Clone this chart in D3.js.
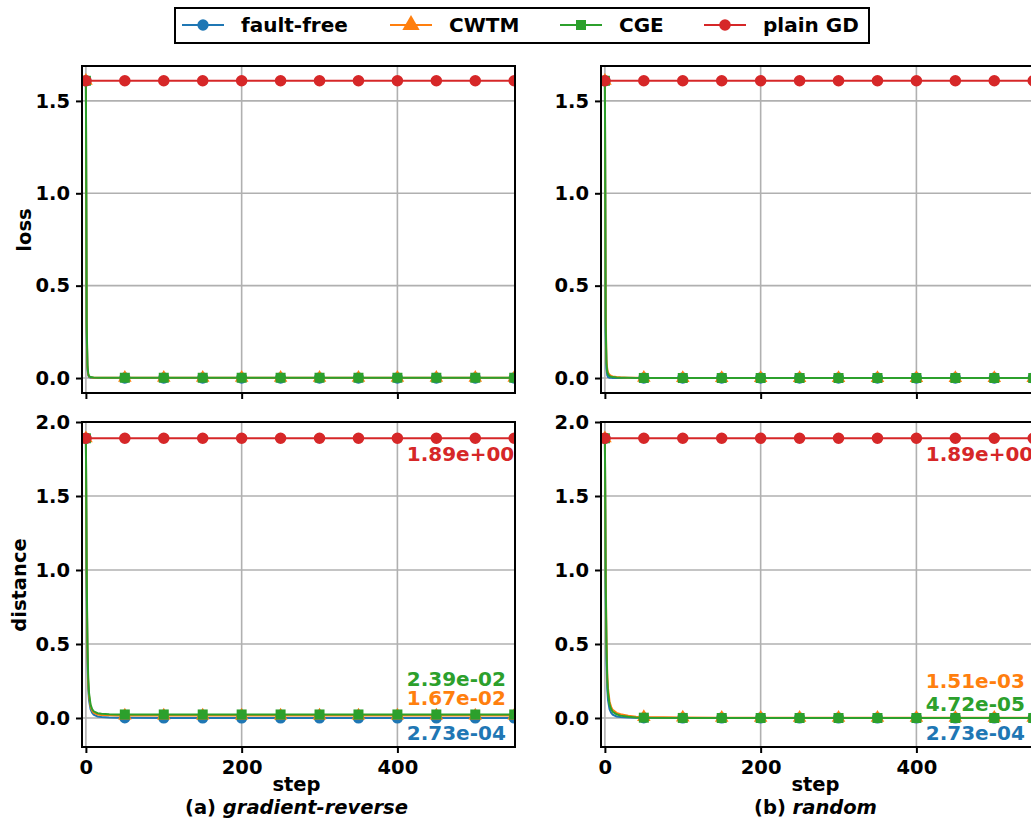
<!DOCTYPE html>
<html>
<head>
<meta charset="utf-8">
<script src="https://cdn.jsdelivr.net/npm/d3@7"></script>
<style>
  body { margin: 0; background: #fff; }
  text { font-family: "DejaVu Sans", sans-serif; font-weight: bold; }
</style>
</head>
<body>
<svg id="chart" width="1031" height="820"></svg>
<script>
// Loss / distance curves for the two fault types.

const steps = [0, 1, 2, 3, 4, 6, 8, 10, 15, 20, 30, 40,
  50, 100, 150, 200, 250, 300, 350, 400, 450, 500, 550]

const seriesNames = ["fault-free", "CWTM", "CGE", "plain GD"]

// (a) gradient-reverse
const lossA_ff   = [1.609, 0.25, 0.05, 0.015, 0.006, 0.002, 0.001, 0.0006, 0.0003, 0.0002, 0.0001, 0.0001,
  0.0001, 0.0001, 0.0001, 0.0001, 0.0001, 0.0001, 0.0001, 0.0001, 0.0001, 0.0001, 0.0001]
const lossA_cwtm = [1.609, 0.28, 0.06, 0.02, 0.008, 0.004, 0.003, 0.002, 0.0015, 0.0012, 0.001, 0.001,
  0.001, 0.001, 0.001, 0.001, 0.001, 0.001, 0.001, 0.001, 0.001, 0.001, 0.001]
const lossA_cge  = [1.609, 0.3, 0.07, 0.025, 0.01, 0.005, 0.004, 0.003, 0.002, 0.002, 0.0015, 0.0015,
  0.0015, 0.0015, 0.0015, 0.0015, 0.0015, 0.0015, 0.0015, 0.0015, 0.0015, 0.0015, 0.0015]
const lossA_gd   = [1.609, 1.609, 1.609, 1.609, 1.609, 1.609, 1.609, 1.609, 1.609, 1.609, 1.609, 1.609,
  1.609, 1.609, 1.609, 1.609, 1.609, 1.609, 1.609, 1.609, 1.609, 1.609, 1.609]

const distA_ff   = [1.89, 0.9, 0.4, 0.2, 0.12, 0.06, 0.035, 0.022, 0.01, 0.006, 0.003, 0.0015,
  0.0008, 0.0005, 0.0004, 0.0003, 0.000273, 0.000273, 0.000273, 0.000273, 0.000273, 0.000273, 0.000273]
const distA_cwtm = [1.89, 0.95, 0.45, 0.24, 0.15, 0.08, 0.05, 0.035, 0.024, 0.02, 0.018, 0.017,
  0.0168, 0.0167, 0.0167, 0.0167, 0.0167, 0.0167, 0.0167, 0.0167, 0.0167, 0.0167, 0.0167]
const distA_cge  = [1.89, 1.0, 0.5, 0.27, 0.17, 0.09, 0.06, 0.045, 0.032, 0.028, 0.025, 0.024,
  0.024, 0.0239, 0.0239, 0.0239, 0.0239, 0.0239, 0.0239, 0.0239, 0.0239, 0.0239, 0.0239]
const distA_gd   = [1.89, 1.89, 1.89, 1.89, 1.89, 1.89, 1.89, 1.89, 1.89, 1.89, 1.89, 1.89,
  1.89, 1.89, 1.89, 1.89, 1.89, 1.89, 1.89, 1.89, 1.89, 1.89, 1.89]

// (b) random
const lossB_ff   = lossA_ff
const lossB_cwtm = [1.609, 0.35, 0.10, 0.05, 0.03, 0.018, 0.012, 0.009, 0.006, 0.004, 0.002, 0.0012,
  0.0008, 0.0003, 0.0003, 0.0003, 0.0003, 0.0003, 0.0003, 0.0003, 0.0003, 0.0003, 0.0003]
const lossB_cge  = [1.609, 0.3, 0.08, 0.035, 0.02, 0.01, 0.007, 0.005, 0.003, 0.002, 0.001, 0.0006,
  0.0004, 0.0001, 0.0001, 0.0001, 0.0001, 0.0001, 0.0001, 0.0001, 0.0001, 0.0001, 0.0001]
const lossB_gd   = lossA_gd

const distB_ff   = distA_ff
const distB_cwtm = [1.89, 1.0, 0.55, 0.3, 0.2, 0.11, 0.075, 0.055, 0.035, 0.025, 0.015, 0.009,
  0.006, 0.0025, 0.0018, 0.0016, 0.00152, 0.00151, 0.00151, 0.00151, 0.00151, 0.00151, 0.00151]
const distB_cge  = [1.89, 0.95, 0.5, 0.27, 0.17, 0.09, 0.06, 0.042, 0.025, 0.016, 0.008, 0.004,
  0.002, 0.0003, 0.0001, 0.00006, 0.0000472, 0.0000472, 0.0000472, 0.0000472, 0.0000472, 0.0000472, 0.0000472]
const distB_gd   = distA_gd

// final-value labels, in series order
const finalLabelsA = ["2.73e-04", "1.67e-02", "2.39e-02", "1.89e+00"]
const finalLabelsB = ["2.73e-04", "1.51e-03", "4.72e-05", "1.89e+00"]

const xTicks = [0, 200, 400, 600]
const lossTicks = [0.0, 0.5, 1.0, 1.5]
const distTicks = [0.0, 0.5, 1.0, 1.5, 2.0]
const captions = [["(a) ", "gradient-reverse"], ["(b) ", "random"]]

const COLORS = ["#1f77b4", "#ff7f0e", "#2ca02c", "#d62728"]
const SYMBOLS = [d3.symbolCircle, d3.symbolTriangle, d3.symbolSquare, d3.symbolCircle]
const SYMSIZE = [100, 80, 100, 105]
const FS = 19.5

const svg = d3.select("#chart")

function drawPanel(id, left, top, w, h, yDomain, yTicks, series, showXLabels) {
  var x = d3.scaleLinear().domain([-5, 551]).range([0, w])
  var y = d3.scaleLinear().domain(yDomain).range([h, 0])
  // ticks past the axis end are not drawn (matplotlib does the same)
  var xt = xTicks.filter(t => x(t) <= w)

  var g = svg.append("g").attr("transform", `translate(${left},${top})`)

  g.append("clipPath").attr("id", id)
    .append("rect").attr("width", w).attr("height", h)

  // grid
  g.append("g").selectAll("line").data(xt).join("line")
    .attr("x1", d => x(d)).attr("x2", d => x(d)).attr("y1", 0).attr("y2", h)
    .attr("stroke", "#b0b0b0").attr("stroke-width", 1.6)
  g.append("g").selectAll("line").data(yTicks).join("line")
    .attr("x1", 0).attr("x2", w).attr("y1", d => y(d)).attr("y2", d => y(d))
    .attr("stroke", "#b0b0b0").attr("stroke-width", 1.6)

  var plot = g.append("g").attr("clip-path", `url(#${id})`)
  var line = d3.line().x((d, i) => x(steps[i])).y(d => y(d))

  series.forEach((vals, k) => {
    plot.append("path").datum(vals)
      .attr("d", line).attr("fill", "none")
      .attr("stroke", COLORS[k]).attr("stroke-width", 2)
    var pts = steps.map((s, i) => [s, vals[i]]).filter(p => p[0] % 50 === 0)
    plot.append("g").selectAll("path").data(pts).join("path")
      .attr("transform", d => `translate(${x(d[0])},${y(d[1])})`)
      .attr("d", d3.symbol(SYMBOLS[k], SYMSIZE[k]))
      .attr("fill", COLORS[k])
  })

  // axes
  var ax = g.append("g").attr("transform", `translate(0,${h})`)
    .call(d3.axisBottom(x).tickValues(xt).tickSize(6).tickPadding(7)
      .tickFormat(showXLabels ? d3.format("d") : ""))
  var ay = g.append("g")
    .call(d3.axisLeft(y).tickValues(yTicks).tickSize(6).tickPadding(6).tickFormat(d3.format(".1f")))
  ;[ax, ay].forEach(a => {
    a.select(".domain").remove()
    a.selectAll("line").attr("stroke", "#000").attr("stroke-width", 2)
    a.selectAll("text").attr("fill", "#000").style("font-size", FS + "px")
      .style("font-family", "DejaVu Sans").style("font-weight", "bold")
  })

  g.append("rect").attr("width", w).attr("height", h)
    .attr("fill", "none").attr("stroke", "#000").attr("stroke-width", 2)

  return {g: g, x: x, y: y, plot: plot}
}

function main() {
  var W = 433
  var cols = [82, 601]
  var lossSets = [[lossA_ff, lossA_cwtm, lossA_cge, lossA_gd], [lossB_ff, lossB_cwtm, lossB_cge, lossB_gd]]
  var distSets = [[distA_ff, distA_cwtm, distA_cge, distA_gd], [distB_ff, distB_cwtm, distB_cge, distB_gd]]
  var labels = [finalLabelsA, finalLabelsB]
  // pixel offsets of the final-value labels from y(0), per column
  var labelDy = [[22, -13, -32], [22, -30, -7]]

  cols.forEach((left, c) => {
    drawPanel("clipL" + c, left, 66, W, 327, [-0.081, 1.689], lossTicks, lossSets[c], false)
    var p = drawPanel("clipD" + c, left, 422, W, 325, [-0.196, 2.0], distTicks, distSets[c], true)

    labels[c].forEach((t, k) => {
      var yy = k === 3 ? p.y(distSets[c][3][steps.length - 1]) + 23 : p.y(0) + labelDy[c][k]
      p.plot.append("text").attr("x", p.x(412)).attr("y", yy)
        .attr("fill", COLORS[k]).style("font-size", "20px").text(t)
    })

    var cx = left + W / 2 - 2
    svg.append("text").attr("x", cx).attr("y", 791).attr("text-anchor", "middle")
      .style("font-size", FS + "px").text("step")
    var cap = svg.append("text").attr("x", cx).attr("y", 814).attr("text-anchor", "middle")
      .style("font-size", FS + "px")
    cap.append("tspan").text(captions[c][0])
    cap.append("tspan").style("font-style", "italic").text(captions[c][1])
  })

  svg.append("text").attr("transform", "translate(31,230) rotate(-90)")
    .attr("text-anchor", "middle").style("font-size", FS + "px").text("loss")
  svg.append("text").attr("transform", "translate(26,585) rotate(-90)")
    .attr("text-anchor", "middle").style("font-size", FS + "px").text("distance")

  // legend
  var lg = svg.append("g")
  lg.append("rect").attr("x", 175).attr("y", 8).attr("width", 694).attr("height", 35)
    .attr("fill", "#fff").attr("stroke", "#000").attr("stroke-width", 2)
  var lineX = [182, 390, 560, 704]
  seriesNames.forEach((name, k) => {
    lg.append("line").attr("x1", lineX[k]).attr("x2", lineX[k] + 42).attr("y1", 25).attr("y2", 25)
      .attr("stroke", COLORS[k]).attr("stroke-width", 2)
    lg.append("path").attr("transform", `translate(${lineX[k] + 21},25)`)
      .attr("d", d3.symbol(SYMBOLS[k], k === 1 ? 130 : SYMSIZE[k])).attr("fill", COLORS[k])
    lg.append("text").attr("x", lineX[k] + 59).attr("y", 32)
      .style("font-size", "20px").text(name)
  })
}

main()
</script>
</body>
</html>
